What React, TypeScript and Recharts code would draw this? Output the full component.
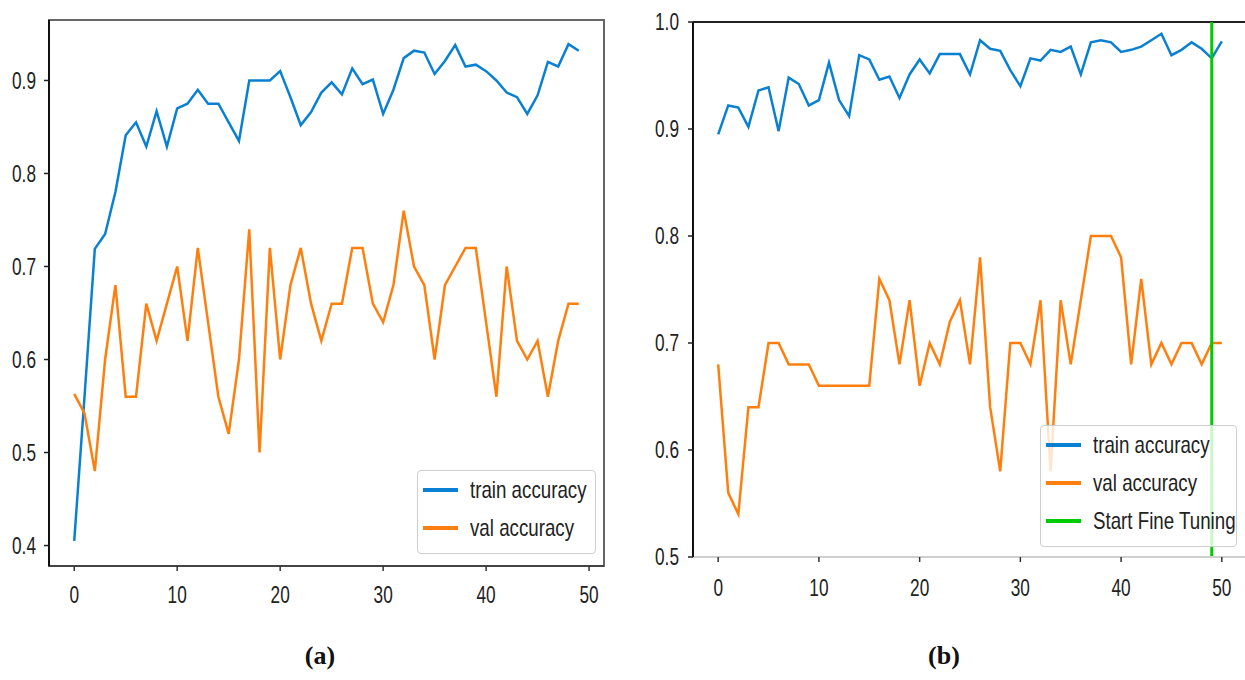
import React from 'react';
import {
    LineChart,
    Line,
    XAxis,
    YAxis,
    Legend,
    ReferenceLine,
    ReferenceArea,
} from 'recharts';

// (a) training run, epochs 0-49
const epochsA = Array.from({ length: 50 }, (_, i) => i);
const trainA = [
    0.405, 0.56, 0.719, 0.735, 0.78, 0.841, 0.855, 0.829, 0.867, 0.829,
    0.87, 0.875, 0.89, 0.875, 0.875, 0.855, 0.835, 0.9, 0.9, 0.9,
    0.91, 0.882, 0.852, 0.866, 0.887, 0.898, 0.885, 0.913, 0.896, 0.901,
    0.864, 0.89, 0.924, 0.932, 0.93, 0.907, 0.921, 0.938, 0.915, 0.917,
    0.91, 0.9, 0.887, 0.882, 0.864, 0.884, 0.92, 0.915, 0.939, 0.932,
];
const valA = [
    0.563, 0.542, 0.48, 0.6, 0.68, 0.56, 0.56, 0.66, 0.62, 0.66,
    0.7, 0.62, 0.72, 0.64, 0.56, 0.52, 0.6, 0.74, 0.5, 0.72,
    0.6, 0.68, 0.72, 0.66, 0.62, 0.66, 0.66, 0.72, 0.72, 0.66,
    0.64, 0.68, 0.76, 0.7, 0.68, 0.6, 0.68, 0.7, 0.72, 0.72,
    0.64, 0.56, 0.7, 0.62, 0.6, 0.62, 0.56, 0.62, 0.66, 0.66,
];

// (b) fine tuning run, epochs 0-50
const epochsB = Array.from({ length: 51 }, (_, i) => i);
const trainB = [
    0.895, 0.922, 0.92, 0.902, 0.936, 0.939, 0.898, 0.948, 0.942, 0.922,
    0.927, 0.962, 0.927, 0.912, 0.969, 0.965, 0.946, 0.949, 0.929, 0.951,
    0.965, 0.952, 0.97, 0.97, 0.97, 0.951, 0.983, 0.975, 0.973, 0.955,
    0.94, 0.966, 0.964, 0.974, 0.972, 0.977, 0.951, 0.981, 0.983, 0.981,
    0.972, 0.974, 0.977, 0.983, 0.989, 0.969, 0.974, 0.981, 0.975, 0.966,
    0.982,
];
const valB = [
    0.68, 0.56, 0.54, 0.64, 0.64, 0.7, 0.7, 0.68, 0.68, 0.68,
    0.66, 0.66, 0.66, 0.66, 0.66, 0.66, 0.76, 0.74, 0.68, 0.74,
    0.66, 0.7, 0.68, 0.72, 0.74, 0.68, 0.78, 0.64, 0.58, 0.7,
    0.7, 0.68, 0.74, 0.58, 0.74, 0.68, 0.74, 0.8, 0.8, 0.8,
    0.78, 0.68, 0.76, 0.68, 0.7, 0.68, 0.7, 0.7, 0.68, 0.7,
    0.7,
];
const fineTuneEpoch = 49;

const xTicks = [0, 10, 20, 30, 40, 50];
const yTicksA = [0.4, 0.5, 0.6, 0.7, 0.8, 0.9];
const yTicksB = [0.5, 0.6, 0.7, 0.8, 0.9, 1.0];

const BLUE = '#0a80d2';
const ORANGE = '#ff7f0e';
const GREEN = '#00cc00';
const FONT = '"Liberation Sans", Arial, sans-serif';

const dataA = epochsA.map((e, i) => ({ epoch: e, train: trainA[i], val: valA[i] }));
const dataB = epochsB.map((e, i) => ({ epoch: e, train: trainB[i], val: valB[i] }));

// matplotlib-ish narrow tick text
const SquishTick = ({ x, y, payload, textAnchor, axis }: any) => {
    const label = axis === 'y' ? Number(payload.value).toFixed(1) : String(payload.value);
    return (
        <g transform={`translate(${x},${y})`}>
            <text
                x={0}
                y={0}
                dy={axis === 'y' ? '0.36em' : '0.71em'}
                textAnchor={textAnchor}
                transform="scale(0.75,1)"
                fill="#222"
                fontSize={23}
                fontFamily={FONT}
            >
                {label}
            </text>
        </g>
    );
};

const makeLegend = (extra: { value: string; color: string }[], boxStyle: React.CSSProperties) => (props: any) => {
    const items = [
        ...(props.payload || []).map((p: any) => ({ value: p.value, color: p.color })),
        ...extra,
    ];
    return (
        <div
            style={{
                position: 'relative',
                background: 'rgba(255,255,255,0.8)',
                border: '1px solid #cfcfcf',
                borderRadius: 4,
                boxSizing: 'border-box',
                ...boxStyle,
            }}
        >
            {items.map((it, i) => (
                <div
                    key={it.value}
                    style={{ position: 'absolute', left: 0, top: 19 + i * 38 - 14, height: 28, width: '100%' }}
                >
                    <div style={{ position: 'absolute', left: 5, top: 12, width: 35, height: 4, background: it.color }} />
                    <span
                        style={{
                            position: 'absolute',
                            left: 52,
                            top: 0,
                            fontFamily: FONT,
                            fontSize: 24,
                            lineHeight: '28px',
                            color: '#222',
                            whiteSpace: 'nowrap',
                            display: 'inline-block',
                            transform: 'scaleX(0.78)',
                            transformOrigin: 'left center',
                        }}
                    >
                        {it.value}
                    </span>
                </div>
            ))}
        </div>
    );
};

const legendA = makeLegend([], { width: 179, height: 84 });
const legendB = makeLegend([{ value: 'Start Fine Tuning', color: GREEN }], { width: 197, height: 122 });

const caption: React.CSSProperties = {
    position: 'absolute',
    top: 641,
    width: 100,
    textAlign: 'center',
    fontFamily: '"Liberation Serif", "Times New Roman", serif',
    fontWeight: 'bold',
    fontSize: 26,
    lineHeight: '30px',
    color: '#111',
};

const App: React.FC = () => {
    return (
        <div
            style={{
                position: 'absolute',
                left: 0,
                top: 0,
                width: 1245,
                height: 680,
                background: '#fff',
                overflow: 'hidden',
            }}
        >
            <div style={{ position: 'absolute', left: 0, top: 0 }}>
                <LineChart width={620} height={610} data={dataA} margin={{ top: 20, right: 16, bottom: 4, left: 0 }}>
                    <ReferenceArea
                        x1={-2.45}
                        x2={51.45}
                        y1={0.378}
                        y2={0.965}
                        fill="none"
                        stroke="#666"
                        strokeWidth={2}
                        ifOverflow="visible"
                    />
                    <XAxis
                        dataKey="epoch"
                        type="number"
                        domain={[-2.45, 51.45]}
                        ticks={xTicks}
                        allowDataOverflow
                        height={40}
                        tickSize={5}
                        tickMargin={16}
                        axisLine={{ stroke: '#444', strokeWidth: 2 }}
                        tickLine={{ stroke: '#333', strokeWidth: 1.5 }}
                        tick={<SquishTick axis="x" />}
                    />
                    <YAxis
                        type="number"
                        domain={[0.378, 0.965]}
                        ticks={yTicksA}
                        allowDataOverflow
                        width={49}
                        tickSize={5}
                        tickMargin={8}
                        axisLine={{ stroke: '#111', strokeWidth: 2 }}
                        tickLine={{ stroke: '#222', strokeWidth: 1.5 }}
                        tick={<SquishTick axis="y" />}
                    />
                    <Line
                        dataKey="train"
                        name="train accuracy"
                        type="linear"
                        stroke={BLUE}
                        strokeWidth={2.5}
                        dot={false}
                        isAnimationActive={false}
                    />
                    <Line
                        dataKey="val"
                        name="val accuracy"
                        type="linear"
                        stroke={ORANGE}
                        strokeWidth={2.5}
                        dot={false}
                        isAnimationActive={false}
                    />
                    <Legend
                        layout="vertical"
                        align="center"
                        verticalAlign="middle"
                        content={legendA}
                        wrapperStyle={{ left: 417, top: 470, width: 179, height: 84 }}
                    />
                </LineChart>
            </div>

            <div style={{ position: 'absolute', left: 640, top: 0 }}>
                <LineChart width={620} height={601} data={dataB} margin={{ top: 22, right: 13, bottom: 4, left: 0 }}>
                    <ReferenceLine y={1.0} stroke="#222" strokeWidth={2} ifOverflow="visible" />
                    <XAxis
                        dataKey="epoch"
                        type="number"
                        domain={[-2.5, 52.5]}
                        ticks={xTicks}
                        allowDataOverflow
                        height={40}
                        tickSize={5}
                        tickMargin={18}
                        axisLine={{ stroke: '#cfcfcf', strokeWidth: 2 }}
                        tickLine={{ stroke: '#333', strokeWidth: 1.5 }}
                        tick={<SquishTick axis="x" />}
                    />
                    <YAxis
                        type="number"
                        domain={[0.5, 1.0]}
                        ticks={yTicksB}
                        allowDataOverflow
                        width={53}
                        tickSize={5}
                        tickMargin={9}
                        axisLine={{ stroke: '#111', strokeWidth: 2 }}
                        tickLine={{ stroke: '#222', strokeWidth: 1.5 }}
                        tick={<SquishTick axis="y" />}
                    />
                    <Line
                        dataKey="train"
                        name="train accuracy"
                        type="linear"
                        stroke={BLUE}
                        strokeWidth={2.5}
                        dot={false}
                        isAnimationActive={false}
                    />
                    <Line
                        dataKey="val"
                        name="val accuracy"
                        type="linear"
                        stroke={ORANGE}
                        strokeWidth={2.5}
                        dot={false}
                        isAnimationActive={false}
                    />
                    <ReferenceLine x={fineTuneEpoch} stroke={GREEN} strokeWidth={3} ifOverflow="visible" />
                    <Legend
                        layout="vertical"
                        align="center"
                        verticalAlign="middle"
                        content={legendB}
                        wrapperStyle={{ left: 400, top: 425, width: 197, height: 122 }}
                    />
                </LineChart>
            </div>

            <div style={{ ...caption, left: 270 }}>(a)</div>
            <div style={{ ...caption, left: 894 }}>(b)</div>
        </div>
    );
};

export default App;
